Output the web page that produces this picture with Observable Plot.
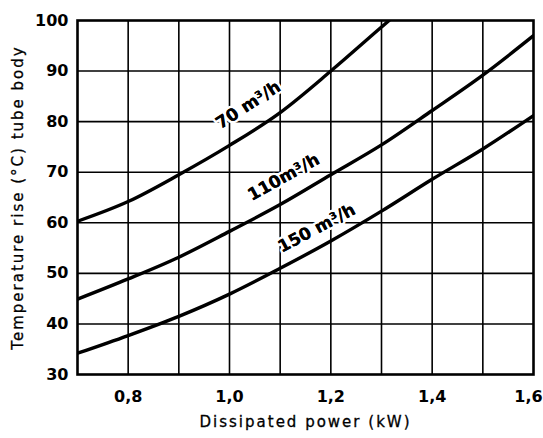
<!DOCTYPE html>
<html><head><meta charset="utf-8">
<script src="https://cdn.jsdelivr.net/npm/d3@7"></script>
<script src="https://cdn.jsdelivr.net/npm/@observablehq/plot@0.6"></script>
<style>
body{margin:0;background:#fff;}
#chart svg{font-family:"DejaVu Sans",sans-serif;}
g[aria-label="x-axis label"] text, g[aria-label="y-axis label"] text{letter-spacing:2px;font-weight:normal;font-size:15px;stroke:#000;stroke-width:0.3px;}
</style>
</head><body><div id="chart"></div>
<script>
const power = [0.7, 0.8, 0.9, 1.0, 1.1, 1.2, 1.3, 1.4, 1.5, 1.6];
const temp70 = [60.3, 64.2, 69.5, 75.3, 81.8, 90.0, 98.7];
const power70End = 1.315, temp70End = 100;
const temp110 = [44.9, 48.9, 53.2, 58.3, 63.6, 69.5, 75.4, 82.2, 89.2, 97.0];
const temp150 = [34.2, 37.7, 41.5, 45.9, 51.0, 56.4, 62.3, 68.6, 74.6, 81.2];
const xTicks = [0.8, 1.0, 1.2, 1.4];
const xTickLast = [1.6];
const yTicks = [30, 40, 50, 60, 70, 80, 90, 100];
const xGrid = [0.8, 0.9, 1.0, 1.1, 1.2, 1.3, 1.4, 1.5];
const yGrid = [40, 50, 60, 70, 80, 90];
const labels = ["70 m³/h", "110m³/h", "150 m³/h"];
const labelX = [1.037, 1.107, 1.172];
const labelY = [83.3, 69.0, 58.9];
const labelAngle = [-33, -29, -28];

const rows = [];
temp70.forEach((t, i) => rows.push({flow: "70", p: power[i], t}));
rows.push({flow: "70", p: power70End, t: temp70End});
temp110.forEach((t, i) => rows.push({flow: "110", p: power[i], t}));
temp150.forEach((t, i) => rows.push({flow: "150", p: power[i], t}));
const labelRows = labels.map((l, i) => ({l, x: labelX[i], y: labelY[i], a: labelAngle[i]}));

const fmt = d => d.toFixed(1).replace(".", ",");

const chart = Plot.plot({
  width: 543, height: 438,
  marginLeft: 77, marginRight: 10, marginTop: 20, marginBottom: 64,
  x: {domain: [0.7, 1.6]},
  y: {domain: [30, 100]},
  marks: [
    Plot.ruleX(xGrid, {stroke: "#000", strokeWidth: 1.6}),
    Plot.ruleY(yGrid, {stroke: "#000", strokeWidth: 1.6}),
    ...labelRows.map(r => Plot.text([r], {x: "x", y: "y", text: "l", rotate: r.a, fontSize: 17, fontWeight: "bold", fill: "#000", stroke: "#fff", strokeWidth: 5})),
    Plot.line(rows, {x: "p", y: "t", z: "flow", curve: "monotone-x", stroke: "#000", strokeWidth: 3.4, clip: true}),
    ...labelRows.map(r => Plot.text([r], {x: "x", y: "y", text: "l", rotate: r.a, fontSize: 17, fontWeight: "bold", fill: "#000"})),
    Plot.frame({stroke: "#000", strokeWidth: 2.6}),
    Plot.axisX(xTicks, {tickSize: 0, tickPadding: 16, tickFormat: fmt, fontSize: 16, fontWeight: "bold", label: "Dissipated power (kW)", labelAnchor: "center", labelOffset: 52, labelArrow: "none"}),
    Plot.axisX(xTickLast, {tickSize: 0, tickPadding: 16, tickFormat: fmt, fontSize: 16, fontWeight: "bold", dx: -5, label: null}),
    Plot.axisY(yTicks, {tickSize: 0, tickPadding: 9, fontSize: 16, fontWeight: "bold", label: "Temperature rise (°C) tube body", labelAnchor: "center", labelOffset: 65, labelArrow: "none"})
  ],
  style: {fontFamily: "DejaVu Sans", color: "#000", background: "#fff"}
});
document.getElementById("chart").appendChild(chart);
</script>
</body></html>
